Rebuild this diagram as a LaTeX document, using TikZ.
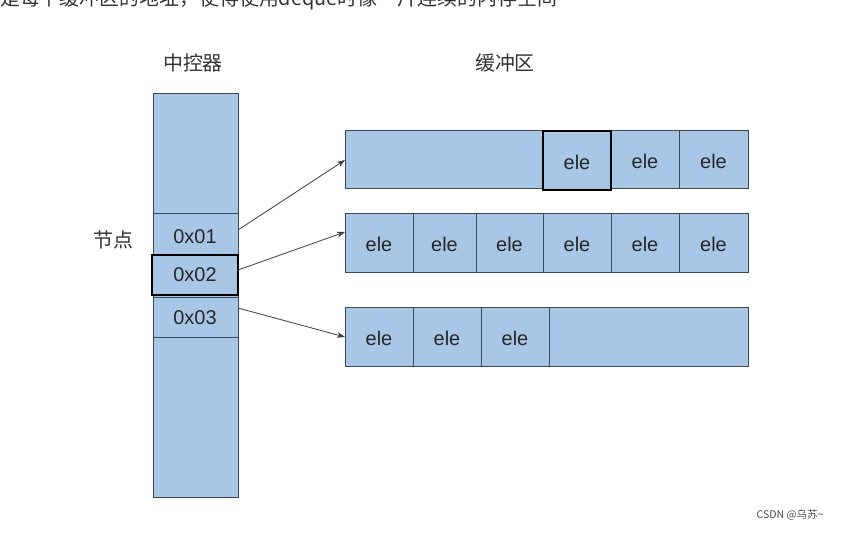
\documentclass[tikz,border=0pt]{standalone}
\usepackage{fontspec}
\setmainfont{Liberation Sans}
\newfontfamily\cjk{Noto Sans CJK SC}
\usetikzlibrary{arrows.meta}
\definecolor{cellblue}{HTML}{A8C6E6}
\definecolor{edgegray}{HTML}{3C4A58}
\tikzset{cell/.style={draw=edgegray,fill=cellblue,line width=0.7pt},
  hot/.style={draw=black,fill=cellblue,line width=1.1pt},
  eletext/.style={font=\fontsize{17}{17}\selectfont,text=black!85},
  ptr/.style={-{Stealth[length=7pt,width=5pt]},draw=black!75,line width=0.7pt}}
\begin{document}
\begin{tikzpicture}[x=0.03cm,y=-0.03cm]
  \useasboundingbox (0,0) rectangle (843,532);
  \clip (0,0) rectangle (843,532);
  \fill[white] (0,0) rectangle (843,532);
  \node[anchor=base west,font=\cjk\fontsize{17}{17}\selectfont,text=black!80] (top) at (-4,6) {是每个缓冲区的地址，使得使用deque时像一片连续的内存空间};
  % headings
  \node[font=\cjk\fontsize{17}{17}\selectfont,text=black!80] (hctrl) at (193,63) {中控器};
  \node[font=\cjk\fontsize{17}{17}\selectfont,text=black!80] (hbuf) at (505,63) {缓冲区};
  \node[font=\cjk\fontsize{17}{17}\selectfont,text=black!80] (hnode) at (113,240) {节点};
  % central map
  \draw[cell] (153,93) rectangle (238,497);
  \draw[cell] (153,213) rectangle (238,255);
  \draw[cell] (153,297) rectangle (238,337);
  \draw[hot] (152,255) rectangle (238,295);
  \node[eletext] (p1) at (195,237) {0x01};
  \node[eletext] (p2) at (195,275) {0x02};
  \node[eletext] (p3) at (195,318) {0x03};
  % buffers
  \draw[cell] (345,130) rectangle (748,188);
  \draw[cell] (345,213) rectangle (748,272);
  \draw[cell] (345,307) rectangle (748,366);
  \foreach \a/\b [count=\i] in {345/413,413/476,476/543,543/611,611/679,679/748}{
    \draw[cell] (\a,213) rectangle (\b,272);
    \node[eletext] (b2\i) at ({(\a+\b)/2},244) {ele};
  }
  \foreach \a/\b [count=\i] in {611/679,679/748}{
    \draw[cell] (\a,130) rectangle (\b,188);
    \node[eletext] (b1\i) at ({(\a+\b)/2},161) {ele};
  }
  \draw[hot] (543,131) rectangle (611,190);
  \node[eletext] (b10) at (577,162) {ele};
  \foreach \a/\b [count=\i] in {345/413,413/481,481/549}{
    \draw[cell] (\a,307) rectangle (\b,366);
    \node[eletext] (b3\i) at ({(\a+\b)/2},338) {ele};
  }
  \coordinate (t1) at (345,160);
  \coordinate (t2) at (345,232);
  \coordinate (t3) at (345,337);
  \coordinate (s1) at (238,230);
  \coordinate (s2) at (238,270);
  \coordinate (s3) at (238,308);
  \draw[ptr] (s1) -- (t1);
  \draw[ptr] (s2) -- (t2);
  \draw[ptr] (s3) -- (t3);
  \node[font=\cjk\fontsize{9}{9}\selectfont,text=black!70] (mark) at (790,515) {CSDN @乌苏\textasciitilde};
\end{tikzpicture}
\end{document}
